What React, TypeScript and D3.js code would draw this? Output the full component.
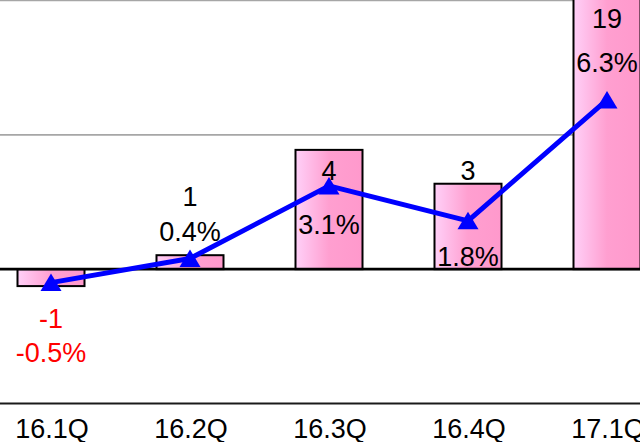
import React from "react";
import * as d3 from "d3";

const categories = ["16.1Q", "16.2Q", "16.3Q", "16.4Q", "17.1Q"];
const barValues = [-0.63, 0.52, 4.44, 3.18, 19.2];
const barLabels = ["-1", "1", "4", "3", "19"];
const pctValues = [-0.5, 0.4, 3.1, 1.8, 6.3];
const gridTicks = [5, 10];

// label placement (pixel offsets relative to the line point)
const valueLabelDy = [45, -52, -6, -41, -72];
const pctLabelDy = [79, -17, 48, 45, -28];

const W = 640;
const H = 442;

export default function App() {
  const x = d3.scalePoint<string>().domain(categories).range([51, 607]);
  const y = d3.scaleLinear().domain([-5, 10]).range([403.5, 0.5]);
  const barW = 67;
  const fontFamily = "'Liberation Sans', Arial, sans-serif";

  const line = d3
    .line<number>()
    .x((_, i) => x(categories[i]) as number)
    .y((d) => y(d));

  const tri = "M0,-9 L10.5,8.5 L-10.5,8.5 Z";

  return (
    <svg
      width={W}
      height={H}
      style={{ position: "absolute", left: 0, top: 0, background: "#fff" }}
    >
      <defs>
        <linearGradient id="barGrad" x1="0" x2="1" y1="0" y2="0">
          <stop offset="0%" stopColor="#ffd0f8" />
          <stop offset="50%" stopColor="#ff9fd0" />
          <stop offset="100%" stopColor="#ff99cc" />
        </linearGradient>
      </defs>
      <rect x={0} y={0} width={W} height={H} fill="#fff" />
      {gridTicks.map((t) => (
        <line
          key={t}
          x1={0}
          x2={W}
          y1={y(t)}
          y2={y(t)}
          stroke="#a6a6a6"
          strokeWidth={1.6}
        />
      ))}
      {barValues.map((v, i) => {
        const cx = x(categories[i]) as number;
        const y0 = y(0);
        const yv = y(v);
        return (
          <rect
            key={i}
            x={cx - barW / 2}
            y={Math.min(y0, yv)}
            width={barW}
            height={Math.abs(yv - y0)}
            fill="url(#barGrad)"
            stroke="#000"
            strokeWidth={2}
          />
        );
      })}
      <line x1={0} x2={W} y1={y(0)} y2={y(0)} stroke="#000" strokeWidth={2.6} />
      <line x1={0} x2={W} y1={y(-5)} y2={y(-5)} stroke="#1a1a1a" strokeWidth={2.2} />
      <path
        d={line(pctValues) || ""}
        fill="none"
        stroke="#0000ff"
        strokeWidth={5}
        strokeLinejoin="round"
      />
      {pctValues.map((v, i) => (
        <path
          key={i}
          d={tri}
          transform={`translate(${x(categories[i])},${y(v)})`}
          fill="#0000ff"
        />
      ))}
      {categories.map((c, i) => {
        const cx = x(c) as number;
        const py = y(pctValues[i]);
        const neg = barValues[i] < 0;
        const color = neg ? "#ff0000" : "#000";
        return (
          <g key={c} fontFamily={fontFamily} fontSize={27} textAnchor="middle" fill={color}>
            <text x={cx} y={py + valueLabelDy[i]}>
              {barLabels[i]}
            </text>
            <text x={cx} y={py + pctLabelDy[i]}>
              {pctValues[i].toFixed(1) + "%"}
            </text>
          </g>
        );
      })}
      {categories.map((c) => (
        <text
          key={c}
          x={(x(c) as number) + 1}
          y={438}
          fontFamily={fontFamily}
          fontSize={27}
          textAnchor="middle"
          fill="#000"
        >
          {c}
        </text>
      ))}
    </svg>
  );
}
